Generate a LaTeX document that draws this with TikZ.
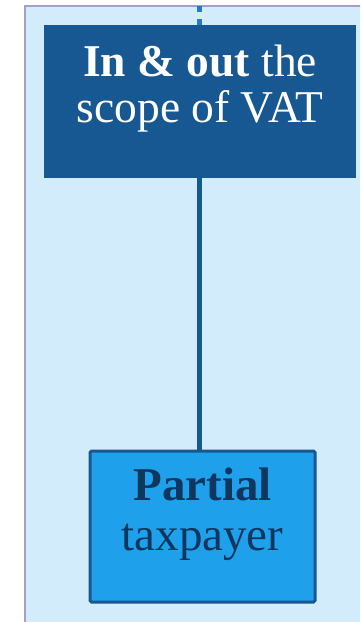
\documentclass[tikz,border=0pt]{standalone}
\usepackage{fontspec}
\setmainfont{Liberation Serif}
\usepackage{tikz}
\usetikzlibrary{positioning}
\definecolor{panelblue}{RGB}{211,236,251}
\definecolor{panelline}{RGB}{163,159,201}
\definecolor{darkblue}{RGB}{24,88,146}
\definecolor{dashblue}{RGB}{36,121,200}
\definecolor{brightblue}{RGB}{30,160,235}
\definecolor{navytext}{RGB}{15,54,95}
\tikzset{x=1pt, y=-1pt,
  scopebox/.style={fill=darkblue, text=white, inner sep=0pt, minimum width=312pt, minimum height=153pt},
  partialbox/.style={draw=darkblue, line width=3pt, rounded corners=1.5pt, fill=brightblue, text=navytext, inner sep=0pt, minimum width=225pt, minimum height=151pt}}
\tikzstyle{link}=[draw=darkblue, line width=5pt]
\tikzstyle{dashlink}=[draw=dashblue, line width=5pt, dash pattern=on 6pt off 7pt]

\begin{document}
\begin{tikzpicture}
\clip (0, 0) rectangle (360, 622);
\draw[panelline, fill=panelblue, line width=2pt] (24.5, 5.5) rectangle (400, 660);
\node[scopebox, anchor=north west] (scope) at (44, 25) {\parbox[c][153pt][t]{312pt}{\centering\fontsize{45.5}{46}\selectfont\rule{0pt}{51.5pt}\textbf{In \& out} the\\scope of VAT}};
\node[partialbox, anchor=north west] (partial) at (88.5, 449.5) {\parbox[c][151pt][t]{225pt}{\centering\fontsize{47}{50}\selectfont\rule{0pt}{49pt}\textbf{Partial}\\taxpayer}};
\coordinate (top) at (199.5, 5);
\draw[dashlink] (scope.north -| top) -- (top);
\draw[link] (scope.south -| top) -- (partial.north -| top);
\end{tikzpicture}
\end{document}
